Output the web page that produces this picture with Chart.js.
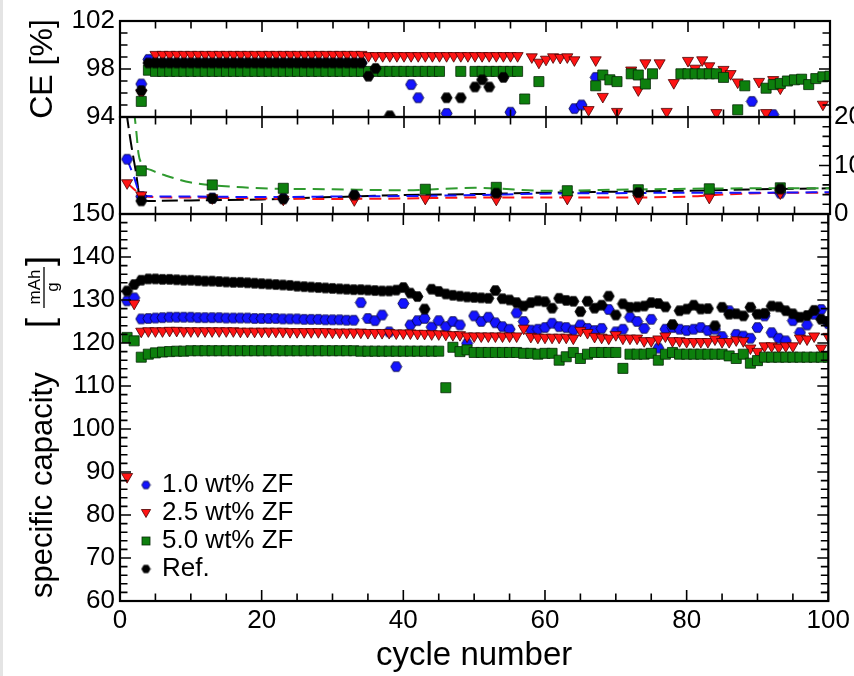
<!DOCTYPE html>
<html><head><meta charset="utf-8">
<script src="https://cdn.jsdelivr.net/npm/chart.js@4.4.1/dist/chart.umd.min.js"></script>
<style>
html,body{margin:0;padding:0;background:#fff;}
#wrap{position:relative;width:854px;height:676px;overflow:hidden;background:#fff;}
canvas{position:absolute;left:0;}
#edge{position:absolute;left:0;top:0;width:3px;height:676px;background:#e4e4e4;}
</style></head><body>
<div id="wrap">
<canvas id="cap" width="854" height="486" style="top:190px"></canvas>
<canvas id="mid" width="854" height="137" style="top:97px"></canvas>
<canvas id="ce" width="854" height="140" style="top:0px"></canvas>
<div id="edge"></div>
</div>
<script>
// ---------------- data ----------------
const cycles = [1,2,3,4,5,6,7,8,9,10,11,12,13,14,15,16,17,18,19,20,21,22,23,24,25,26,27,28,29,30,31,32,33,34,35,36,37,38,39,40,41,42,43,44,45,46,47,48,49,50,51,52,53,54,55,56,57,58,59,60,61,62,63,64,65,66,67,68,69,70,71,72,73,74,75,76,77,78,79,80,81,82,83,84,85,86,87,88,89,90,91,92,93,94,95,96,97,98,99,100];

const legendLabels = ['1.0 wt% ZF','2.5 wt% ZF','5.0 wt% ZF','Ref.'];

// specific capacity [mAh/g]
const capBlue = [129.8,130.5,125.6,125.7,125.8,125.9,126.0,126.0,126.0,126.0,
125.9,125.9,125.9,125.9,125.8,125.8,125.8,125.8,125.7,125.7,
125.7,125.7,125.6,125.6,125.6,125.5,125.5,125.5,125.4,125.4,
125.4,125.3,125.3,129.4,125.7,125.2,126.5,122.6,114.5,129.2,
124.2,125.2,125.7,123.7,125.2,123.8,125.0,124.2,119.9,126.3,
125.0,126.0,124.7,123.8,123.2,127.0,125.0,123.0,123.2,123.6,
124.6,123.8,123.6,123.0,124.2,123.4,122.9,123.4,127.8,122.6,
123.2,126.0,125.0,123.4,125.5,118.8,123.2,123.6,123.2,122.9,
123.2,123.6,122.9,123.2,121.5,127.5,122.0,121.6,121.1,123.6,
126.3,122.4,121.1,120.5,125.2,122.4,124.2,126.7,127.8,124.5];

const capRed = [88.9,129.2,122.7,122.8,122.8,122.8,122.9,122.9,122.8,122.8,
122.8,122.8,122.8,122.8,122.8,122.8,122.7,122.7,122.7,122.7,
122.7,122.7,122.7,122.6,122.6,122.6,122.6,122.6,122.6,122.5,
122.5,122.5,122.5,122.5,122.4,122.4,122.4,122.4,122.3,122.3,
122.3,122.2,122.2,122.1,122.1,122.0,121.9,121.9,121.6,121.6,
121.6,121.6,121.6,121.6,121.6,121.6,123.4,121.5,121.3,121.3,
121.3,121.3,121.3,121.1,122.9,122.4,121.5,121.3,121.1,121.9,
121.1,121.1,121.1,120.5,120.5,120.9,121.6,120.5,120.5,120.3,
120.3,120.3,120.3,120.9,120.3,120.3,120.7,120.5,118.8,118.0,
119.3,119.3,119.0,119.3,119.3,121.1,120.9,121.6,118.8,121.5];

const capGreen = [121.3,120.5,116.7,117.4,117.7,117.9,118.0,118.1,118.1,118.2,
118.2,118.2,118.2,118.2,118.2,118.2,118.2,118.2,118.2,118.2,
118.2,118.2,118.2,118.2,118.2,118.2,118.2,118.2,118.2,118.2,
118.2,118.2,118.2,118.1,118.1,118.1,118.1,118.1,118.1,118.1,
118.1,118.1,118.1,118.1,118.1,109.6,119.0,118.0,118.4,117.8,
117.8,117.8,117.8,117.8,117.8,117.8,117.6,117.6,117.4,117.6,
117.6,116.0,116.8,117.8,116.4,117.4,117.8,117.8,117.8,117.8,
114.1,117.4,117.4,117.4,117.6,116.0,117.4,117.8,117.4,117.4,
117.4,117.4,117.4,117.4,117.4,117.0,116.4,117.4,115.3,115.9,
116.7,116.7,116.7,116.7,116.7,116.7,116.7,116.7,116.7,116.7];

const capRef = [132.1,133.6,134.6,134.9,134.9,134.8,134.8,134.7,134.6,134.6,
134.5,134.4,134.4,134.3,134.2,134.1,134.1,134.0,133.9,133.8,
133.7,133.6,133.5,133.4,133.2,133.1,133.0,132.9,132.8,132.7,
132.6,132.5,132.4,132.4,132.3,132.2,132.1,132.1,132.3,132.9,
131.6,130.8,127.9,132.5,132.0,131.4,131.1,130.9,130.7,130.6,
130.5,130.4,132.2,130.3,130.0,129.4,128.6,129.4,129.8,129.6,
128.1,130.4,129.9,129.7,127.3,129.7,128.1,128.8,130.9,126.5,
129.1,128.3,128.4,128.6,129.4,129.2,128.4,124.3,127.5,127.9,
128.8,127.9,128.0,124.0,128.3,126.7,126.8,126.3,128.3,126.7,
126.9,128.6,128.4,127.5,126.8,126.0,126.4,127.6,125.5,125.0];

// coulombic efficiency CE [%]
const ceBlue = [null,null,96.75,98.8,98.5,98.5,98.5,98.5,98.5,98.5,
98.5,98.5,98.5,98.5,98.5,98.5,98.5,98.5,98.5,98.5,
98.5,98.5,98.5,98.5,98.5,98.5,98.5,98.5,98.5,98.5,
98.5,98.5,98.5,98.5,null,null,null,null,null,null,
96.7,95.6,null,null,null,94.3,null,null,null,null,
null,null,null,null,94.4,null,null,null,null,null,
null,null,null,94.7,95.0,null,97.3,null,null,null,
null,null,null,null,null,null,null,null,null,null,
null,null,null,null,null,null,null,null,95.3,null,
null,94.2,null,null,null,null,null,null,null,null];

const ceRed = [null,null,96.0,null,99.2,99.2,99.2,99.2,99.2,99.2,
99.2,99.2,99.2,99.2,99.2,99.2,99.2,99.2,99.2,99.2,
99.2,99.2,99.2,99.2,99.2,99.2,99.2,99.2,99.2,99.2,
99.2,99.2,99.2,99.2,99.1,99.1,99.1,99.1,99.1,99.1,
99.1,99.1,99.1,99.1,99.1,99.1,99.1,99.1,99.1,99.1,
99.1,99.1,99.1,99.1,99.1,99.1,null,99.0,98.55,98.8,
99.0,98.95,99.0,98.75,null,94.6,98.75,95.7,null,94.45,
null,97.9,96.25,98.5,null,98.5,94.45,96.85,null,98.7,
98.05,98.75,98.25,94.35,97.95,97.6,96.9,null,null,96.95,
94.35,97.1,96.4,null,null,null,null,null,95.05,null];

const ceGreen = [null,null,95.3,97.9,97.8,97.8,97.8,97.8,97.8,97.8,
97.8,97.8,97.8,97.8,97.8,97.8,97.8,97.8,97.8,97.8,
97.8,97.8,97.8,97.8,97.8,97.8,97.8,97.8,97.8,97.8,
97.8,97.8,97.8,97.8,97.8,97.8,97.8,97.8,97.8,97.8,
97.8,97.8,97.8,97.8,97.8,null,null,97.8,null,97.8,
97.8,97.8,97.8,97.8,97.8,97.8,95.5,null,96.95,null,
null,null,null,null,null,null,96.6,97.5,97.1,96.95,
null,97.6,97.5,96.75,97.6,null,null,null,97.6,97.6,
97.6,97.6,97.6,97.6,97.3,null,94.6,96.6,null,null,
96.4,96.7,96.8,97.0,97.1,97.15,96.7,97.2,97.35,97.4];

const ceRef = [null,null,96.2,98.5,98.5,98.5,98.5,98.5,98.5,98.5,
98.5,98.5,98.5,98.5,98.5,98.5,98.5,98.5,98.5,98.5,
98.5,98.5,98.5,98.5,98.5,98.5,98.5,98.5,98.5,98.5,
98.5,98.5,98.5,98.5,97.4,98.05,null,94.1,null,null,
null,null,null,null,null,95.6,null,95.6,null,96.5,
97.1,96.5,null,97.3,null,null,null,null,null,null,
null,null,null,null,null,null,null,null,null,null,
null,null,null,null,null,null,null,null,null,null,
null,null,null,null,null,null,null,null,null,null,
null,null,null,null,null,null,null,null,null,null];

// middle panel (right axis 0-20)
const midCycles = [1,3,13,23,33,43,53,63,73,83,93];
const midBlue  = [11.3,3.6,3.3,3.2,3.8,null,4.2,null,4.3,null,4.3];
const midRed   = [6.4,3.9,3.3,3.0,2.9,3.2,3.0,3.2,3.2,3.4,4.3];
const midGreen = [null,8.9,6.0,5.3,null,5.1,5.5,4.8,5.0,5.2,5.4];
const midRef   = [null,2.7,3.2,3.1,3.9,null,4.3,null,4.4,null,5.15];

const fitBlueX  = [1,2,2.7,3.5,10,20,30,40,50,60,70,80,90,100];
const fitBlueY  = [11.3,7.5,4.5,3.7,3.6,3.5,3.6,3.7,3.9,4.2,4.3,4.4,4.4,4.5];
const fitRedX   = [1,3,3.5,10,20,30,40,50,60,70,80,85,90,100];
const fitRedY   = [6.4,3.9,3.6,3.4,3.2,3.1,3.2,3.4,3.4,3.4,3.6,4.0,4.3,4.4];
const fitGreenX = [2.0,2.3,2.6,3.0,4.5,6.5,10,16,20,30,40,50,60,70,80,90,100];
const fitGreenY = [21,17,12.5,10.5,9.0,7.9,6.5,5.6,5.3,5.1,4.9,5.4,4.8,5.0,5.2,5.3,5.3];
const fitRefX   = [0.9,1.5,2.2,2.9,4,10,20,30,40,50,60,70,80,90,100];
const fitRefY   = [21,15,9,3.0,2.7,2.8,3.0,3.5,3.9,4.1,4.4,4.6,4.8,5.1,5.3];

// tick labels
const xTicks   = [0,20,40,60,80,100];
const ceTicks  = [94,98,102];
const midTicks = [0,10,20];
const capTicks = [60,70,80,90,100,110,120,130,140,150];

// ---------------- styling ----------------
const FONT = "'Liberation Sans', Arial, Helvetica, sans-serif";
Chart.defaults.font.family = FONT;
Chart.defaults.color = '#000';

const COL = {blue:'#1414ff', red:'#ff1414', green:'#0d7f0d', black:'#000000'};

function hexImg(fill, stroke, d) {
  const s = Math.ceil(d) + 2;
  const c = document.createElement('canvas'); c.width = s; c.height = s;
  const g = c.getContext('2d');
  const r = d / 2, cx = s / 2, cy = s / 2;
  g.beginPath();
  for (let k = 0; k < 6; k++) {
    const a = k * Math.PI / 3;
    const px = cx + r * Math.cos(a), py = cy + r * Math.sin(a);
    if (k) g.lineTo(px, py); else g.moveTo(px, py);
  }
  g.closePath(); g.fillStyle = fill; g.fill();
  g.lineWidth = 0.8; g.strokeStyle = stroke; g.stroke();
  return c;
}
const hexBlue = hexImg(COL.blue, '#00003a', 11);
const hexBlack = hexImg(COL.black, '#000', 11);
const hexBlueS = hexImg(COL.blue, '#00003a', 8.5);
const hexBlackS = hexImg(COL.black, '#000', 8.5);

const MARK = {
  blue:  {pointStyle: hexBlue, pointRadius: 5},
  red:   {pointStyle: 'triangle', pointRotation: 180, pointRadius: 6.4, pointBackgroundColor: COL.red, pointBorderColor: '#4a0000', pointBorderWidth: 0.8},
  green: {pointStyle: 'rect', pointRadius: 7.1, pointBackgroundColor: COL.green, pointBorderColor: '#062806', pointBorderWidth: 0.8},
  black: {pointStyle: hexBlack, pointRadius: 5}
};
const ORDER = {blue: 4, red: 3, green: 2, black: 1};

function pts(xs, ys) {
  return xs.map((x, i) => ({x: x, y: ys[i]})).filter(p => p.y !== null && p.y !== undefined);
}
function scatterDs(key, xs, ys, label) {
  return Object.assign({label: label, data: pts(xs, ys), showLine: false, clip: 0, order: ORDER[key]}, MARK[key]);
}
function fitDs(color, xs, ys, dash) {
  return {data: pts(xs, ys), showLine: true, pointRadius: 0, borderColor: color, borderWidth: 2,
          borderDash: dash, cubicInterpolationMode: 'monotone', clip: 0, order: 10, fill: false};
}

// ---------------- frame + inward tick marks ----------------
function frameTicks(cfg) {
  return {
    id: 'frameTicks',
    afterDraw(chart) {
      const {ctx, chartArea: a, scales} = chart;
      const xs = scales.x;
      const MAJ = 11, MIN = 7.5;
      ctx.save();
      ctx.strokeStyle = '#000'; ctx.lineWidth = 1.6; ctx.beginPath();
      for (let v = 0; v <= 100; v += 5) {
        const px = xs.getPixelForValue(v);
        const L = (v % 20 === 0) ? MAJ : MIN;
        if (cfg.top) { ctx.moveTo(px, a.top); ctx.lineTo(px, a.top + L); }
        if (cfg.bottom) { ctx.moveTo(px, a.bottom); ctx.lineTo(px, a.bottom - L); }
      }
      const ys = scales.y;
      if (cfg.y) {
        const {min, max, minor, major} = cfg.y;
        for (let v = min; v <= max + 1e-9; v += minor) {
          const py = ys.getPixelForValue(v);
          const q = (v - min) / major;
          const L = Math.abs(q - Math.round(q)) < 1e-6 ? MAJ : MIN;
          if (cfg.left) { ctx.moveTo(a.left, py); ctx.lineTo(a.left + L, py); }
          if (cfg.right) { ctx.moveTo(a.right, py); ctx.lineTo(a.right - L, py); }
        }
      }
      ctx.stroke();
      ctx.lineWidth = 2.2;
      ctx.strokeRect(a.left, a.top, a.right - a.left, a.bottom - a.top);
      ctx.restore();
    }
  };
}

const baseOpts = {
  responsive: false, animation: false, events: [],
  plugins: {legend: {display: false}, tooltip: {enabled: false}, title: {display: false}}
};
function setTicks(arr) { return s => { s.ticks = arr.map(v => ({value: v})); }; }
const xHidden = {type: 'linear', min: 0, max: 100, display: false};

// ---------------- CE panel ----------------
new Chart(document.getElementById('ce'), {
  type: 'scatter',
  data: {datasets: [
    scatterDs('blue', cycles, ceBlue, legendLabels[0]),
    scatterDs('red', cycles, ceRed, legendLabels[1]),
    scatterDs('green', cycles, ceGreen, legendLabels[2]),
    scatterDs('black', cycles, ceRef, legendLabels[3])
  ]},
  options: Object.assign({}, baseOpts, {
    layout: {padding: {left: 0, right: 24, top: 21, bottom: 23}},
    scales: {
      x: xHidden,
      y: {type: 'linear', min: 94, max: 102, position: 'left',
          afterBuildTicks: setTicks(ceTicks),
          afterFit: s => { s.width = 120; },
          grid: {display: false, drawTicks: false}, border: {display: false},
          ticks: {font: {size: 26}, color: '#000', padding: 5, autoSkip: false},
          title: {display: true, text: 'CE [%]', font: {size: 32}, color: '#000', padding: {top: 24, bottom: 0}}}
    }
  }),
  plugins: [frameTicks({top: true, bottom: true, left: true, right: true, y: {min: 94, max: 102, minor: 1, major: 4}})]
});

// ---------------- middle panel ----------------
new Chart(document.getElementById('mid'), {
  type: 'scatter',
  data: {datasets: [
    fitDs('#2f9a2f', fitGreenX, fitGreenY, [12, 7]),
    fitDs(COL.blue, fitBlueX, fitBlueY, [12, 7]),
    fitDs(COL.red, fitRedX, fitRedY, [12, 7]),
    fitDs('#000', fitRefX, fitRefY, [16, 6]),
    scatterDs('blue', midCycles, midBlue, legendLabels[0]),
    scatterDs('red', midCycles, midRed, legendLabels[1]),
    scatterDs('green', midCycles, midGreen, legendLabels[2]),
    scatterDs('black', midCycles, midRef, legendLabels[3])
  ]},
  options: Object.assign({}, baseOpts, {
    layout: {padding: {left: 120, right: 0, top: 20, bottom: 20}},
    scales: {
      x: xHidden,
      y: {type: 'linear', min: 0, max: 20, position: 'right',
          afterBuildTicks: setTicks(midTicks),
          afterFit: s => { s.width = 24; },
          grid: {display: false, drawTicks: false}, border: {display: false},
          ticks: {font: {size: 26}, color: '#000', padding: 4, autoSkip: false}}
    }
  }),
  plugins: [frameTicks({top: true, bottom: true, left: false, right: true, y: {min: 0, max: 20, minor: 2, major: 10}})]
});

// ---------------- capacity panel ----------------
const legendPlugin = {
  id: 'insideLegend',
  afterDraw(chart) {
    const ctx = chart.ctx;
    const x0 = 146, y0 = 295, dy = 28;
    ctx.save();
    ctx.font = '26px ' + FONT; ctx.fillStyle = '#000';
    ctx.textBaseline = 'middle'; ctx.textAlign = 'left';
    legendLabels.forEach((t, i) => {
      const y = y0 + i * dy;
      if (i === 0 || i === 3) {
        const im = i === 0 ? hexBlueS : hexBlackS;
        ctx.drawImage(im, x0 - im.width / 2, y - im.height / 2);
      } else if (i === 1) {
        ctx.beginPath(); ctx.moveTo(x0 - 4.6, y - 3.5); ctx.lineTo(x0 + 4.6, y - 3.5); ctx.lineTo(x0, y + 4.5); ctx.closePath();
        ctx.fillStyle = COL.red; ctx.fill(); ctx.lineWidth = 0.8; ctx.strokeStyle = '#4a0000'; ctx.stroke();
      } else {
        ctx.fillStyle = COL.green; ctx.fillRect(x0 - 4, y - 4, 8, 8);
        ctx.lineWidth = 0.8; ctx.strokeStyle = '#062806'; ctx.strokeRect(x0 - 4, y - 4, 8, 8);
      }
      ctx.fillStyle = '#000';
      ctx.fillText(t, 162, y);
    });
    ctx.restore();
  }
};
const capTitlePlugin = {
  id: 'capTitle',
  afterDraw(chart) {
    const ctx = chart.ctx;
    ctx.save();
    ctx.translate(43, 408);
    ctx.rotate(-Math.PI / 2);
    ctx.fillStyle = '#000';
    ctx.textBaseline = 'middle'; ctx.textAlign = 'left';
    ctx.font = '31px ' + FONT;
    ctx.fillText('specific capacity', 0, 0);
    // [ mAh / g ]
    ctx.font = '36px ' + FONT;
    ctx.fillText('[', 270, -1);
    ctx.fillText(']', 332, -1);
    ctx.font = '17px ' + FONT; ctx.textAlign = 'center';
    ctx.fillText('mAh', 311, -8);
    ctx.fillText('g', 311, 10);
    ctx.beginPath(); ctx.moveTo(290, 1); ctx.lineTo(331, 1);
    ctx.lineWidth = 1.3; ctx.strokeStyle = '#000'; ctx.stroke();
    ctx.restore();
  }
};

new Chart(document.getElementById('cap'), {
  type: 'scatter',
  data: {datasets: [
    scatterDs('blue', cycles, capBlue, legendLabels[0]),
    scatterDs('red', cycles, capRed, legendLabels[1]),
    scatterDs('green', cycles, capGreen, legendLabels[2]),
    scatterDs('black', cycles, capRef, legendLabels[3])
  ]},
  options: Object.assign({}, baseOpts, {
    layout: {padding: {left: 0, right: 24, top: 24, bottom: 0}},
    scales: {
      x: {type: 'linear', min: 0, max: 100, position: 'bottom',
          afterBuildTicks: setTicks(xTicks),
          afterFit: s => { s.height = 75; },
          grid: {display: false, drawTicks: false}, border: {display: false},
          ticks: {font: {size: 26}, color: '#000', padding: 4, maxRotation: 0, autoSkip: false},
          title: {display: true, text: 'cycle number', font: {size: 33}, color: '#000', padding: {top: 0, bottom: 0}}},
      y: {type: 'linear', min: 60, max: 150, position: 'left',
          afterBuildTicks: setTicks(capTicks),
          afterFit: s => { s.width = 120; },
          grid: {display: false, drawTicks: false}, border: {display: false},
          ticks: {font: {size: 26}, color: '#000', padding: 5, autoSkip: false}}
    }
  }),
  plugins: [frameTicks({top: true, bottom: true, left: true, right: true, y: {min: 60, max: 150, minor: 2, major: 10}}), legendPlugin, capTitlePlugin]
});
</script>
</body></html>
